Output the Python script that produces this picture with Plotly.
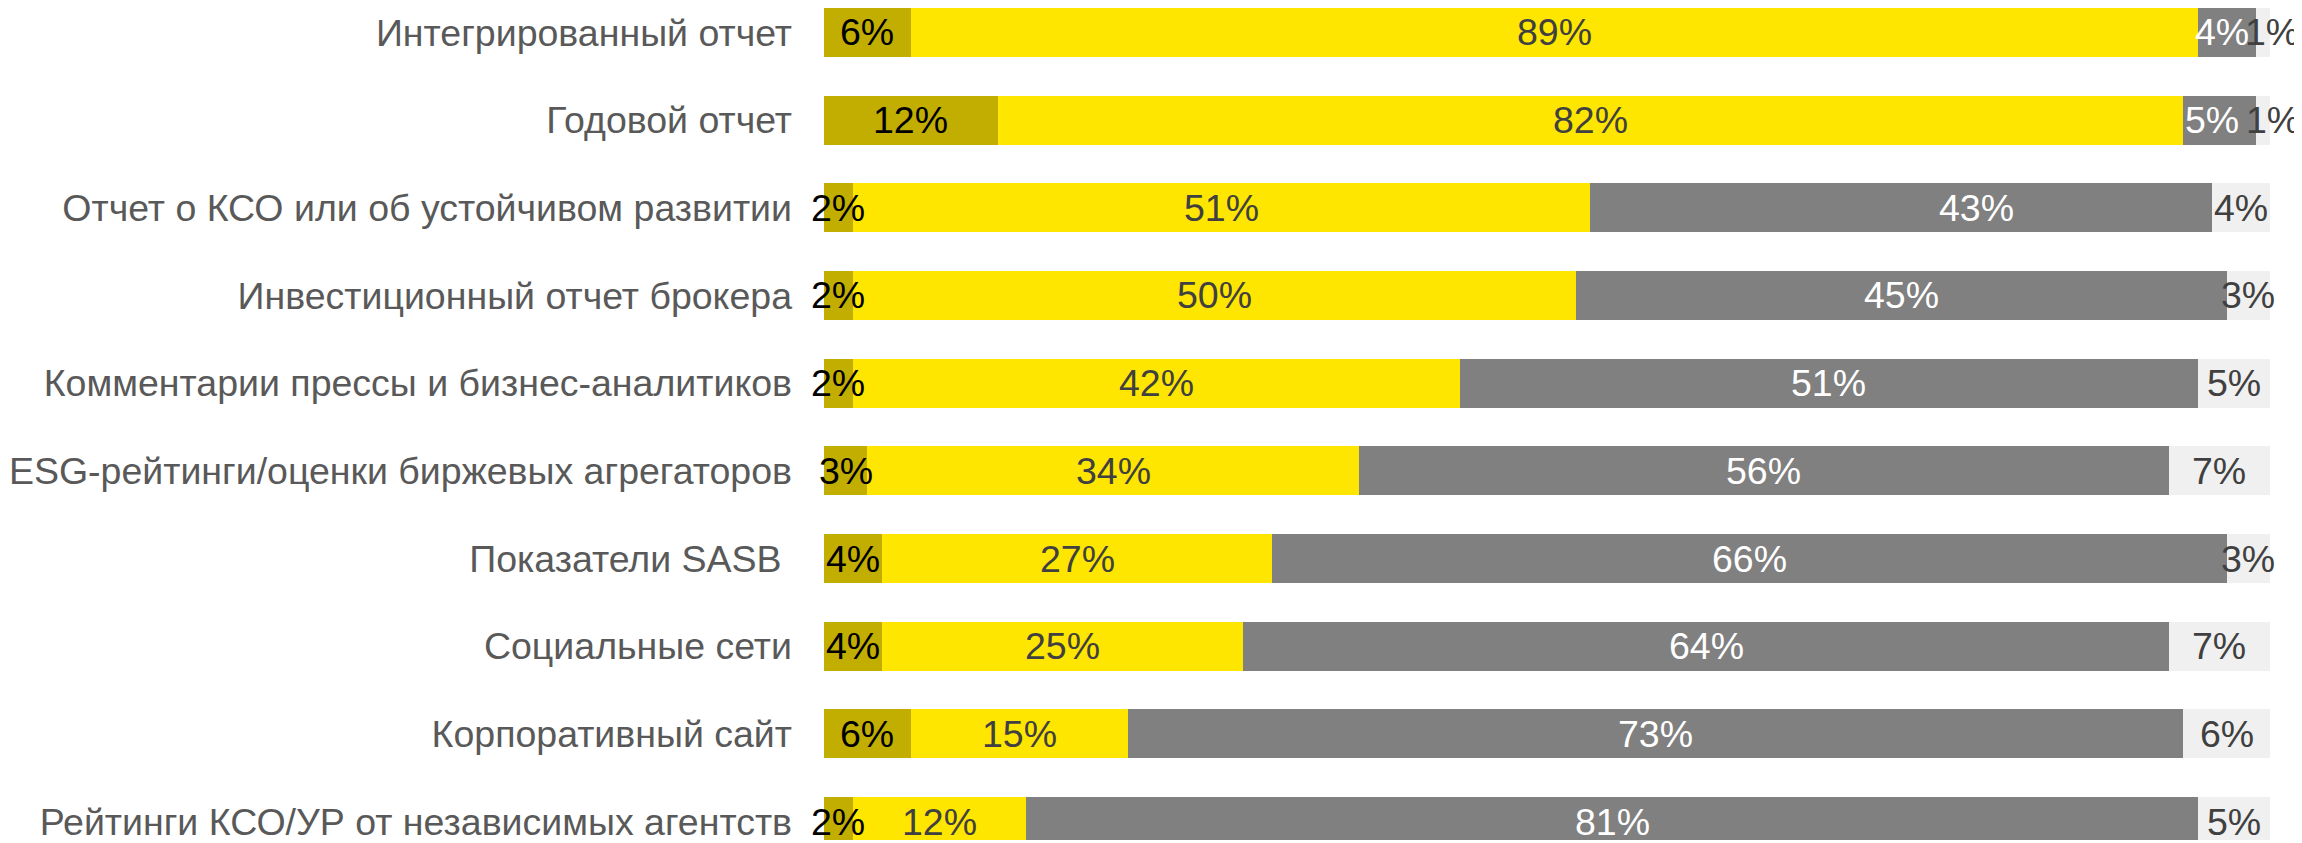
import plotly.graph_objects as go

categories = [
    "Интегрированный отчет",
    "Годовой отчет",
    "Отчет о КСО или об устойчивом развитии",
    "Инвестиционный отчет брокера",
    "Комментарии прессы и бизнес-аналитиков",
    "ESG-рейтинги/оценки биржевых агрегаторов",
    "Показатели SASB\u00a0",
    "Социальные сети",
    "Корпоративный сайт",
    "Рейтинги КСО/УР от независимых агентств",
]
s1 = [6, 12, 2, 2, 2, 3, 4, 4, 6, 2]
s2 = [89, 82, 51, 50, 42, 34, 27, 25, 15, 12]
s3 = [4, 5, 43, 45, 51, 56, 66, 64, 73, 81]
s4 = [1, 1, 4, 3, 5, 7, 3, 7, 6, 5]

series = [s1, s2, s3, s4]
colors = ["#C2AE00", "#FFE600", "#808080", "#F0F0F0"]
label_colors = ["#000000", "#404040", "#FFFFFF", "#404040"]
FONT = "Liberation Sans, Arial, sans-serif"
FS = 37.5

# small manual nudges of crowded labels (row, series) -> pixel shift
nudges = {(0, 2): -5, (0, 3): 9, (1, 2): -7, (1, 3): 10, (2, 2): 75}

fig = go.Figure()
for vals, col in zip(series, colors):
    fig.add_trace(go.Bar(
        y=categories, x=vals, orientation="h",
        marker=dict(color=col, line=dict(width=0)),
        width=0.557, hoverinfo="skip", showlegend=False,
    ))

annotations = []
for i, cat in enumerate(categories):
    base = 0
    for k, vals in enumerate(series):
        v = vals[i]
        annotations.append(dict(
            x=base + v / 2, y=cat, xref="x", yref="y",
            text=f"{v}%", showarrow=False,
            font=dict(family=FONT, size=FS, color=label_colors[k]),
            xanchor="center", yanchor="middle",
            xshift=nudges.get((i, k), 0),
        ))
        base += v

fig.update_layout(
    barmode="stack",
    width=2294, height=835,
    margin=dict(l=816, r=32, t=0, b=0),
    paper_bgcolor="white", plot_bgcolor="white",
    annotations=annotations,
    xaxis=dict(range=[0, 100], visible=False, fixedrange=True),
    yaxis=dict(
        type="category", categoryorder="array", categoryarray=categories,
        range=[9.210, -0.2784], showgrid=False, zeroline=False, showline=False,
        ticks="", ticklabelstandoff=31,
        tickfont=dict(family=FONT, size=FS, color="#595959"),
    ),
)

fig.write_html("out.html")
